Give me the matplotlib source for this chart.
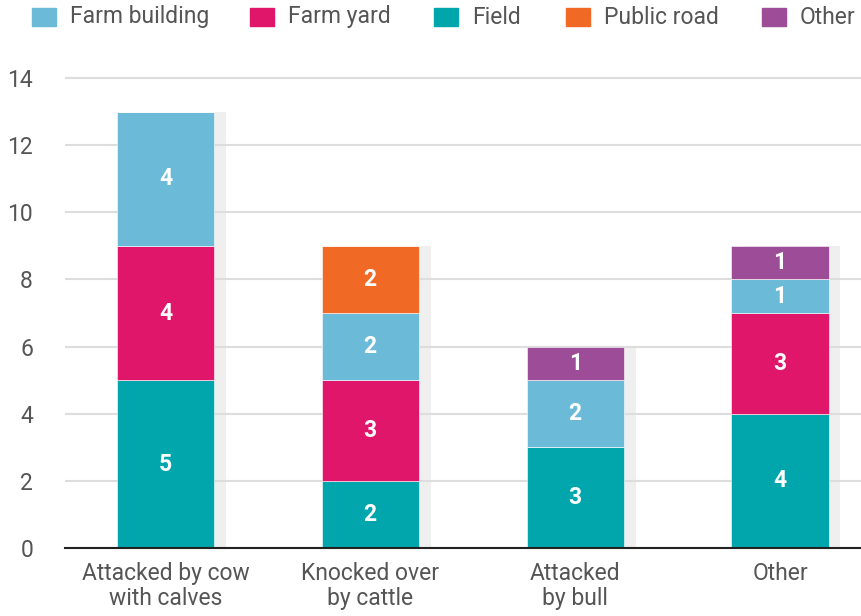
import numpy as np
import matplotlib.pyplot as plt
from matplotlib.patches import Rectangle

categories = ["Attacked by cow\nwith calves", "Knocked over\nby cattle", "Attacked\nby bull", "Other"]
series_names = ["Farm building", "Farm yard", "Field", "Public road", "Other"]
farm_building = [4, 2, 2, 1]
farm_yard = [4, 3, 0, 3]
field = [5, 2, 3, 4]
public_road = [0, 2, 0, 0]
other = [0, 0, 1, 1]

colors = {
    "Farm building": "#6bbad8",
    "Farm yard": "#e0166a",
    "Field": "#00a6ac",
    "Public road": "#f06a25",
    "Other": "#9d4c97",
}
values = {
    "Farm building": farm_building,
    "Farm yard": farm_yard,
    "Field": field,
    "Public road": public_road,
    "Other": other,
}
stack_order = ["Field", "Farm yard", "Farm building", "Public road", "Other"]

plt.rcParams['font.family'] = ['Roboto', 'DejaVu Sans']
text_color = "#555555"
fs = 16.5

W, H = 862, 616
fig = plt.figure(figsize=(W / 100, H / 100), dpi=100)
ax = fig.add_axes([65 / W, 1 - 548 / H, 1 - 65 / W, (548 - 78) / H * 14.05 / 14])

x = np.arange(len(categories))
width = 0.474
totals = np.sum([values[s] for s in stack_order], axis=0)

# grey shadow bars behind
ax.bar(x + 0.058, totals, width, color="#efefef", zorder=1)
ax.yaxis.grid(True, color="#dddddd", linewidth=1.5, zorder=2)
ax.set_axisbelow(False)

bottom = np.zeros(len(categories))
for s in stack_order:
    v = np.array(values[s], dtype=float)
    ax.bar(x, v, width, bottom=bottom, color=colors[s], edgecolor="white",
           linewidth=0.4, zorder=3)
    for xi, vi, bi in zip(x, v, bottom):
        if vi > 0:
            ax.text(xi, bi + vi / 2, str(int(vi)), ha="center", va="center",
                    color="white", fontsize=16.5, fontweight="bold", zorder=4)
    bottom += v

ax.set_xlim(-0.49, 3.4)
ax.set_ylim(0, 14.05)
ax.set_yticks(range(0, 15, 2))
ax.set_xticks(x)
ax.set_xticklabels(categories, linespacing=1.1)
ax.tick_params(axis="both", length=0, labelsize=fs, colors=text_color)
ax.tick_params(axis="x", pad=10)
ax.tick_params(axis="y", pad=23)
for sp in ["top", "right", "left"]:
    ax.spines[sp].set_visible(False)
ax.spines["bottom"].set_color("#222222")
ax.spines["bottom"].set_linewidth(1.5)
ax.spines["bottom"].set_zorder(5)

# legend along the top
legend_x = [32, 250, 434, 566, 762]
for name, lx in zip(series_names, legend_x):
    fig.patches.append(Rectangle((lx / W, 1 - 26 / H), 24 / W, 18 / H,
                                 transform=fig.transFigure, color=colors[name]))
    fig.text((lx + 38) / W, 1 - 17 / H, name, ha="left", va="center",
             fontsize=fs, color=text_color)

fig.savefig("out.png", dpi=100)
